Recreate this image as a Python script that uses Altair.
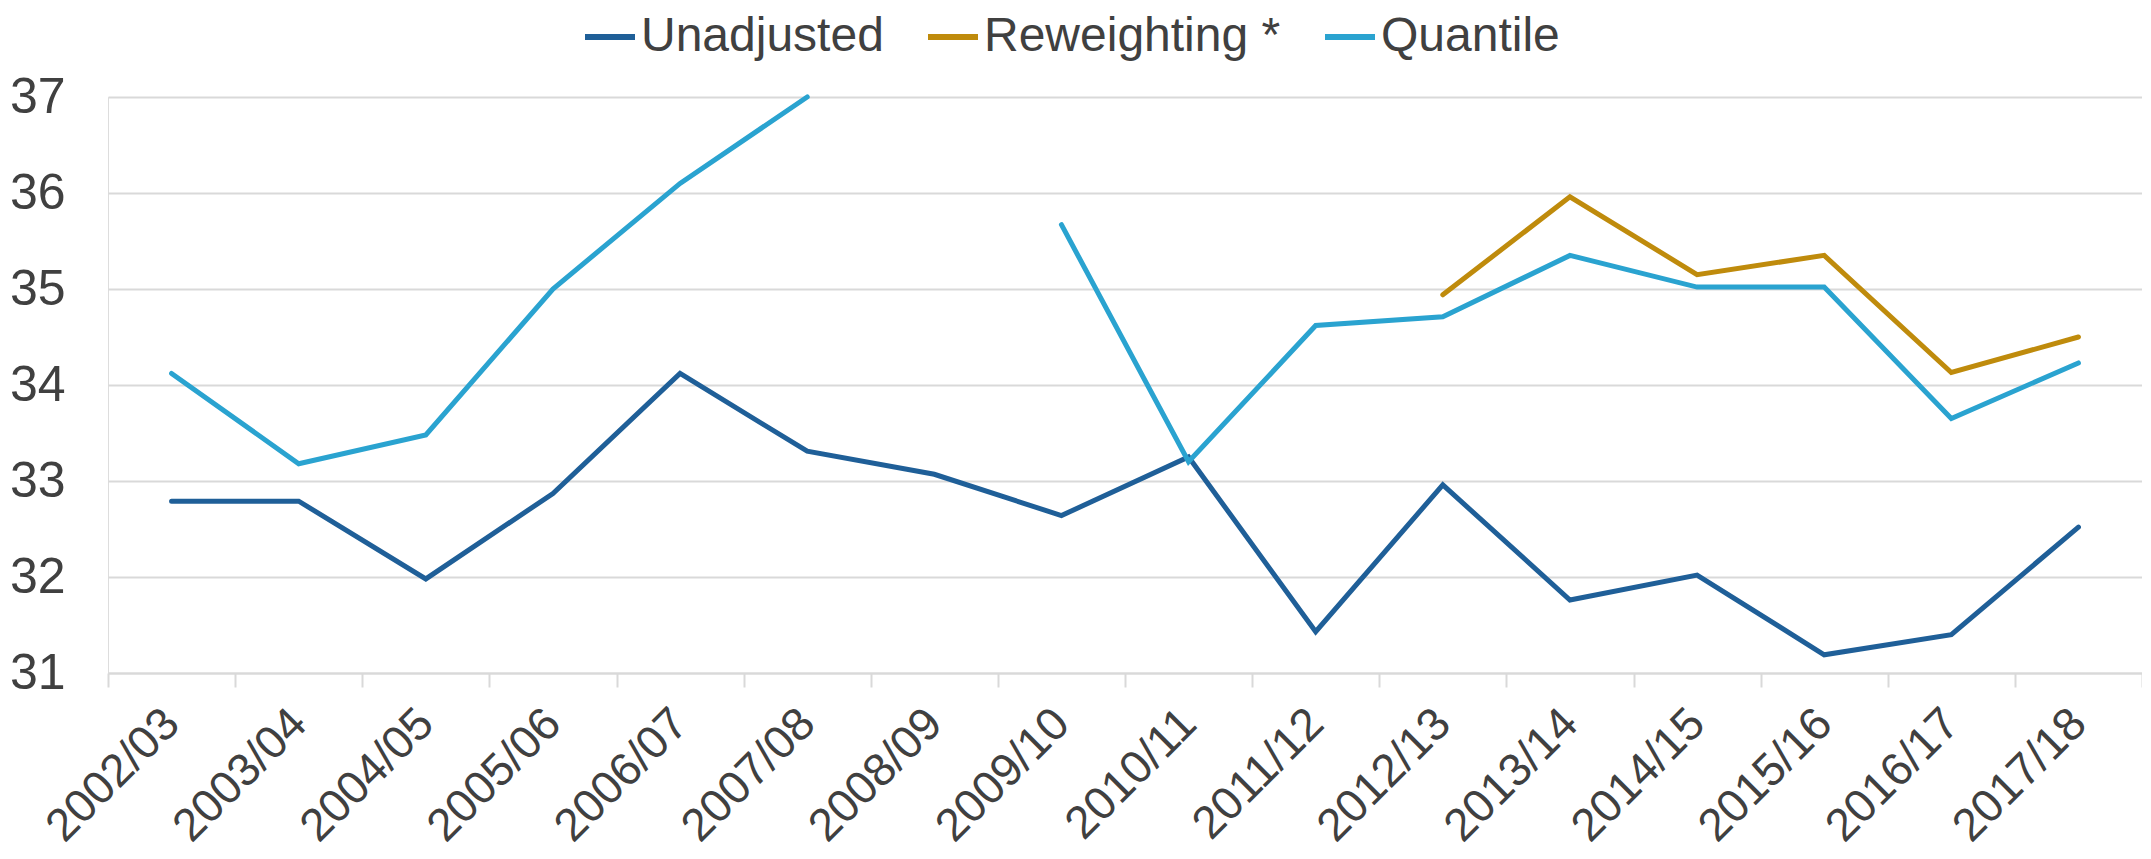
import altair as alt
import pandas as pd

years = ["2002/03", "2003/04", "2004/05", "2005/06", "2006/07", "2007/08",
         "2008/09", "2009/10", "2010/11", "2011/12", "2012/13", "2013/14",
         "2014/15", "2015/16", "2016/17", "2017/18"]
unadjusted = [32.79, 32.79, 31.98, 32.87, 34.12, 33.31, 33.07, 32.64, 33.25,
              31.43, 32.96, 31.76, 32.02, 31.19, 31.40, 32.52]
reweighting = [None, None, None, None, None, None, None, None, None, None,
               34.94, 35.96, 35.15, 35.35, 34.13, 34.50]
quantile = [34.12, 33.18, 33.48, 35.00, 36.10, 37.00, None, 35.67, 33.20,
            34.62, 34.71, 35.35, 35.02, 35.02, 33.65, 34.23]

series_names = ["Unadjusted", "Reweighting *", "Quantile"]
series_colors = ["#1f5f98", "#bf8b0c", "#2aa3d0"]
y_ticks = [31, 32, 33, 34, 35, 36, 37]

rows = []
for name, vals in zip(series_names, [unadjusted, reweighting, quantile]):
    seg = 0
    for yr, v in zip(years, vals):
        if v is None:
            seg += 1
            continue
        rows.append({"year": yr, "series": name, "value": v, "seg": f"{name}-{seg}"})
df = pd.DataFrame(rows)

FONT = "Liberation Sans"
TXT = "#404040"
GRID = "#d9d9d9"

chart = alt.Chart(df).mark_line(strokeWidth=5, strokeCap="round", strokeJoin="miter").encode(
    x=alt.X("year:N", sort=years,
            scale=alt.Scale(type="band", domain=years, paddingInner=0, paddingOuter=0),
            axis=alt.Axis(title=None, labelAngle=-45, labelAlign="right", labelBaseline="middle",
                          labelFontSize=46, labelColor=TXT, labelFont=FONT,
                          tickBand="extent", tickSize=14, tickColor=GRID, tickWidth=2,
                          domainColor=GRID, domainWidth=2, labelPadding=29, grid=False)),
    y=alt.Y("value:Q", scale=alt.Scale(domain=[31, 37], nice=False, zero=False),
            axis=alt.Axis(title=None, values=y_ticks, labelFontSize=50, labelColor=TXT,
                          labelFont=FONT, ticks=False, domain=False, labelPadding=43,
                          grid=True, gridColor=GRID, gridWidth=2)),
    color=alt.Color("series:N",
                    scale=alt.Scale(domain=series_names, range=series_colors),
                    legend=alt.Legend(title=None, orient="none", direction="horizontal",
                                      legendX=474, legendY=-88, labelFontSize=48,
                                      labelColor=TXT, labelFont=FONT, symbolType="stroke",
                                      symbolSize=2500, symbolStrokeWidth=6, labelOffset=3,
                                      columnPadding=32, padding=0, labelLimit=600)),
    detail="seg:N",
).properties(
    width=2034, height=576,
    autosize=alt.AutoSizeParams(type="none"),
    padding={"left": 100, "top": 89, "right": 0, "bottom": 178},
).configure_view(stroke=None).configure(background="white")

chart.save("out.html", embed_options={"renderer": "svg", "actions": False})
